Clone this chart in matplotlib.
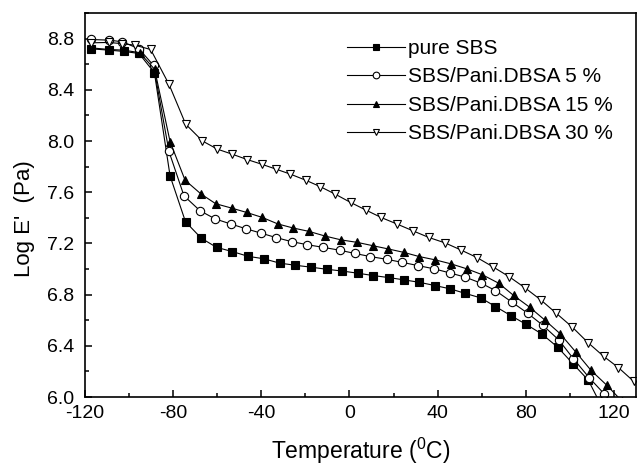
import matplotlib
matplotlib.use("Agg")
import matplotlib.pyplot as plt
from matplotlib.ticker import MultipleLocator

plt.rcParams['font.family'] = ['Liberation Sans', 'DejaVu Sans']
plt.rcParams['mathtext.fontset'] = 'custom'
plt.rcParams['mathtext.rm'] = 'Liberation Sans'
plt.rcParams['axes.unicode_minus'] = False

# pure SBS (filled squares)
t_pure = [-117.4, -109.1, -102.5, -95.5, -88.5, -81.4, -74.4, -67.2, -60.3, -53.1,
          -46.0, -38.9, -31.7, -24.5, -17.3, -10.4, -3.2, 3.8, 10.7, 17.8,
          24.8, 31.7, 38.7, 45.7, 52.6, 59.6, 66.2, 73.3, 80.2, 87.3,
          94.4, 101.4, 108.4, 115.5]
e_pure = [8.72, 8.71, 8.70, 8.684, 8.533, 7.727, 7.369, 7.24, 7.169, 7.136,
          7.099, 7.08, 7.046, 7.029, 7.014, 6.998, 6.984, 6.967, 6.949, 6.933,
          6.915, 6.896, 6.871, 6.845, 6.809, 6.774, 6.707, 6.635, 6.567, 6.492,
          6.39, 6.26, 6.13, 5.89]

# SBS/Pani.DBSA 5 % (open circles)
t_5 = [-117.4, -109.1, -103.0, -95.5, -88.9, -81.9, -75.1, -67.8, -60.9, -53.9,
       -47.1, -40.3, -33.2, -26.3, -19.2, -11.9, -4.5, 2.3, 9.5, 16.8,
       23.9, 31.0, 38.5, 45.4, 52.6, 59.7, 66.2, 73.7, 80.8, 87.8,
       94.9, 101.6, 108.9, 115.5]
e_5 = [8.793, 8.788, 8.775, 8.72, 8.59, 7.918, 7.572, 7.455, 7.391, 7.352,
       7.315, 7.281, 7.245, 7.214, 7.190, 7.169, 7.147, 7.122, 7.097, 7.076,
       7.052, 7.027, 7.001, 6.970, 6.936, 6.889, 6.832, 6.741, 6.655, 6.559,
       6.447, 6.299, 6.148, 6.026]

# SBS/Pani.DBSA 15 % (filled triangles)
t_15 = [-117.4, -109.1, -102.5, -95.2, -88.4, -81.4, -74.6, -67.3, -60.7, -53.5,
        -46.7, -39.6, -32.5, -25.5, -18.4, -11.2, -3.7, 3.5, 10.6, 17.5,
        24.6, 31.7, 39.0, 46.1, 53.3, 60.3, 67.7, 74.5, 81.7, 88.5,
        95.6, 102.7, 109.6, 116.8, 123.5]
e_15 = [8.728, 8.715, 8.71, 8.69, 8.56, 7.995, 7.694, 7.585, 7.51, 7.476,
        7.442, 7.403, 7.352, 7.320, 7.294, 7.258, 7.227, 7.208, 7.182, 7.157,
        7.130, 7.097, 7.071, 7.040, 7.001, 6.955, 6.889, 6.793, 6.702, 6.603,
        6.494, 6.351, 6.208, 6.091, 5.97]

# SBS/Pani.DBSA 30 % (open down triangles)
t_30 = [-117.4, -109.1, -103.0, -97.5, -90.2, -81.9, -74.3, -66.7, -59.9, -53.2,
        -46.4, -39.9, -33.3, -26.8, -19.9, -13.2, -6.5, 0.5, 7.5, 14.3,
        21.6, 28.7, 35.9, 43.5, 50.5, 57.9, 65.2, 72.6, 79.7, 86.9,
        93.9, 101.1, 108.2, 115.3, 122.0, 128.9]
e_30 = [8.767, 8.77, 8.76, 8.749, 8.715, 8.443, 8.131, 8.0, 7.936, 7.897,
        7.855, 7.819, 7.780, 7.741, 7.694, 7.643, 7.585, 7.52, 7.46, 7.403,
        7.351, 7.299, 7.247, 7.203, 7.149, 7.089, 7.016, 6.938, 6.852, 6.757,
        6.653, 6.546, 6.425, 6.318, 6.23, 6.123]

labels = ['pure SBS', 'SBS/Pani.DBSA 5 %', 'SBS/Pani.DBSA 15 %', 'SBS/Pani.DBSA 30 %']

fig = plt.figure(figsize=(6.37, 4.67), dpi=100)
ax = fig.add_axes([85 / 637, 70 / 467, 551 / 637, 384 / 467])

style = dict(color='black', lw=0.8, mec='black', mew=0.8, ms=6)
ax.plot(t_pure, e_pure, marker='s', mfc='black', label=labels[0], **style)
ax.plot(t_5, e_5, marker='o', mfc='white', label=labels[1], **style)
ax.plot(t_15, e_15, marker='^', mfc='black', label=labels[2], **style)
ax.plot(t_30, e_30, marker='v', mfc='white', label=labels[3], **style)

ax.set_xlim(-120, 130)
ax.set_ylim(6.0, 9.0)
ax.xaxis.set_major_locator(MultipleLocator(40))
ax.xaxis.set_minor_locator(MultipleLocator(20))
ax.yaxis.set_major_locator(MultipleLocator(0.4))
ax.yaxis.set_minor_locator(MultipleLocator(0.2))
ax.yaxis.set_major_formatter(plt.FormatStrFormatter('%.1f'))
ax.tick_params(which='both', direction='in', top=False, right=False, width=1.1, labelsize=14)
ax.tick_params(which='major', length=5)
ax.tick_params(which='minor', length=3)
ax.tick_params(axis='x', pad=6)
ax.tick_params(axis='y', pad=8)
for s in ax.spines.values():
    s.set_linewidth(1.2)

ax.set_xlabel('Temperature ($^{\\rm 0}$C)', fontsize=16.5, labelpad=10)
ax.set_ylabel("Log E'  (Pa)", fontsize=16)
ax.yaxis.set_label_coords(-0.09, 0.4635)

ax.legend(loc='upper left', bbox_to_anchor=(0.4755, 0.932), frameon=False, fontsize=15,
          handlelength=2.8, handletextpad=0.15, labelspacing=0.45, borderpad=0,
          borderaxespad=0, markerscale=0.8)

fig.savefig('out.png', dpi=100)
